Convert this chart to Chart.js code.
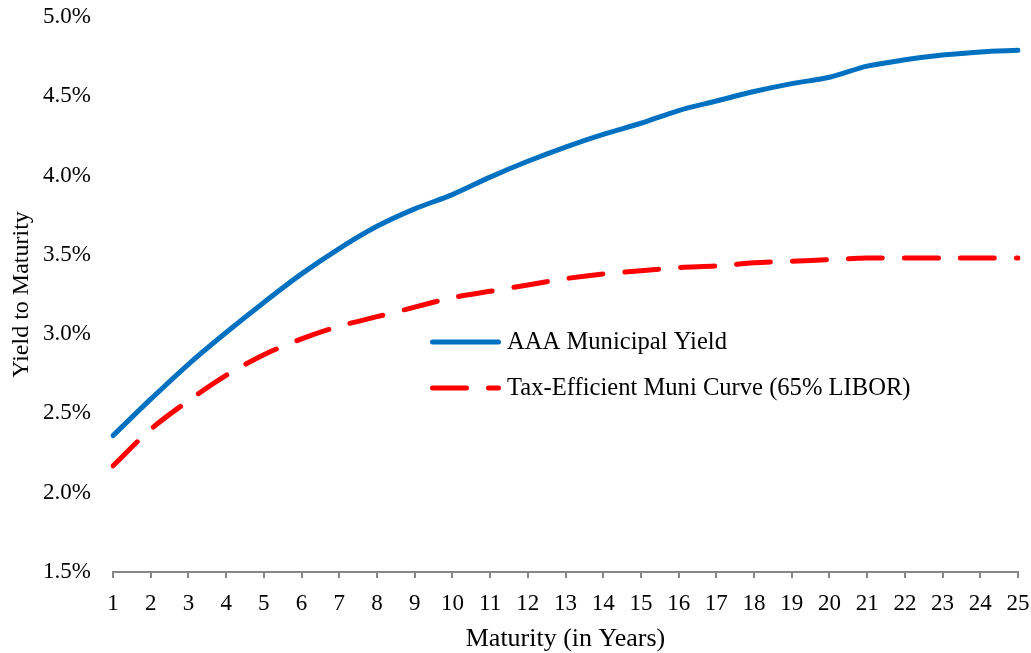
<!DOCTYPE html>
<html>
<head>
<meta charset="utf-8">
<title>Yield to Maturity by Maturity</title>
<script src="https://cdn.jsdelivr.net/npm/chart.js@4.4.1/dist/chart.umd.min.js"></script>
<style>
  html, body { margin: 0; padding: 0; background: #ffffff; }
  #wrap { position: relative; width: 1031px; height: 653px; }
</style>
</head>
<body>
<div id="wrap"><canvas id="chart"></canvas></div>
<script>
// Maturities in years
const maturities = ['1','2','3','4','5','6','7','8','9','10','11','12','13','14','15','16','17','18','19','20','21','22','23','24','25'];

// AAA municipal yield curve (%)
const aaaMuniYield = [2.36, 2.59, 2.81, 3.01, 3.20, 3.38, 3.54, 3.68, 3.79, 3.88, 3.99, 4.09, 4.18, 4.26, 4.33, 4.41, 4.47, 4.53, 4.58, 4.62, 4.69, 4.73, 4.76, 4.78, 4.79];

// Tax-efficient muni curve, 65% of LIBOR (%)
const taxEfficientCurve = [2.17, 2.40, 2.58, 2.74, 2.87, 2.97, 3.05, 3.11, 3.17, 3.23, 3.27, 3.31, 3.35, 3.38, 3.40, 3.42, 3.43, 3.45, 3.46, 3.47, 3.48, 3.48, 3.48, 3.48, 3.48];

// Y-axis range and step (%)
const yMin = 1.5;
const yMax = 5.0;
const yStep = 0.5;

const seriesNames = ['AAA Municipal Yield', 'Tax-Efficient Muni Curve (65% LIBOR)'];

const SERIF = '"Liberation Serif", "Times New Roman", Times, serif';
const AXIS_GREY = '#868686';

// Legend drawn inside the plot area, as a two-row key with line samples
const insideLegend = {
  id: 'insideLegend',
  afterDatasetsDraw(chart, args, opts) {
    const ctx = chart.ctx;
    ctx.save();
    chart.data.datasets.forEach((ds, i) => {
      const y = opts.y + i * opts.rowGap;
      ctx.beginPath();
      ctx.lineWidth = ds.borderWidth;
      ctx.strokeStyle = ds.borderColor;
      ctx.lineCap = 'round';
      ctx.setLineDash(ds.borderDash || []);
      ctx.moveTo(opts.x + 2.5, y);
      ctx.lineTo(opts.x + opts.sampleWidth - 2.5, y);
      ctx.stroke();
      ctx.setLineDash([]);
      ctx.font = opts.fontSize + 'px ' + SERIF;
      ctx.fillStyle = '#000000';
      ctx.textAlign = 'left';
      ctx.textBaseline = 'middle';
      ctx.fillText(ds.label, opts.x + opts.sampleWidth + opts.textGap, y + 1);
    });
    ctx.restore();
  }
};

new Chart(document.getElementById('chart'), {
  type: 'line',
  data: {
    labels: maturities,
    datasets: [
      {
        label: seriesNames[0],
        data: aaaMuniYield,
        borderColor: '#0070C0',
        backgroundColor: '#0070C0',
        borderWidth: 5,
        borderCapStyle: 'round',
        borderJoinStyle: 'round',
        pointRadius: 0,
        tension: 0.3,
        fill: false
      },
      {
        label: seriesNames[1],
        data: taxEfficientCurve,
        borderColor: '#FF0000',
        backgroundColor: '#FF0000',
        borderWidth: 5,
        borderDash: [34, 22],
        borderCapStyle: 'round',
        borderJoinStyle: 'round',
        pointRadius: 0,
        tension: 0.3,
        fill: false
      }
    ]
  },
  options: {
    responsive: true,
    maintainAspectRatio: false,
    animation: false,
    devicePixelRatio: 1,
    layout: { padding: { top: 17, right: 13, bottom: 0, left: 0 } },
    plugins: {
      legend: { display: false },
      tooltip: { enabled: false },
      insideLegend: { x: 430, y: 342, rowGap: 46, sampleWidth: 71, textGap: 6, fontSize: 24.6 }
    },
    scales: {
      x: {
        type: 'category',
        offset: false,
        grid: {
          display: true,
          drawOnChartArea: false,
          drawTicks: true,
          tickLength: 6,
          color: AXIS_GREY,
          lineWidth: 2
        },
        border: { display: true, color: AXIS_GREY, width: 2 },
        ticks: {
          color: '#000000',
          font: { family: SERIF, size: 23 },
          padding: 12,
          maxRotation: 0,
          autoSkip: false
        },
        title: {
          display: true,
          text: 'Maturity (in Years)',
          color: '#000000',
          font: { family: SERIF, size: 26, lineHeight: 1.0 },
          padding: { top: 0, bottom: 1 }
        },
        afterFit(scale) {
          scale.height = 81;
          scale.paddingLeft = 0;
          scale.paddingRight = 0;
        }
      },
      y: {
        min: yMin,
        max: yMax,
        grid: { display: false, drawTicks: false },
        border: { display: false },
        ticks: {
          stepSize: yStep,
          color: '#000000',
          font: { family: SERIF, size: 23 },
          padding: 22,
          callback: (v) => Number(v).toFixed(1) + '%'
        },
        title: {
          display: true,
          text: 'Yield to Maturity',
          color: '#000000',
          font: { family: SERIF, size: 24 },
          padding: { top: 7, bottom: 0 }
        },
        afterFit(scale) {
          scale.width = 113;
          scale.paddingTop = 0;
          scale.paddingBottom = 0;
        }
      }
    }
  },
  plugins: [insideLegend]
});
</script>
</body>
</html>
